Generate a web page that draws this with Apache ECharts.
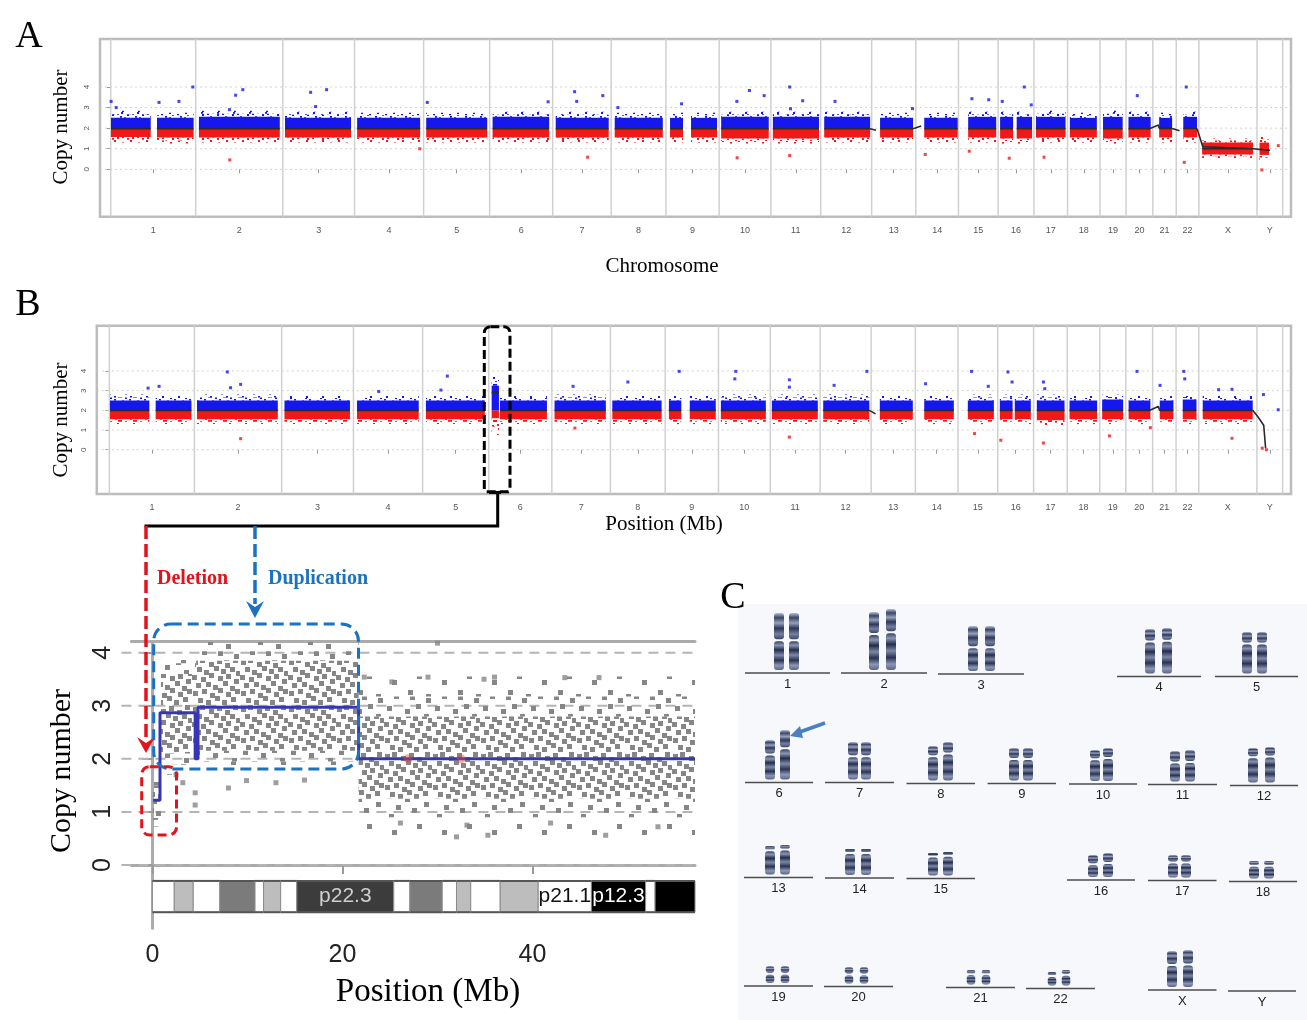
<!DOCTYPE html>
<html><head><meta charset="utf-8">
<script src="https://cdn.jsdelivr.net/npm/echarts@6/dist/echarts.min.js"></script>
<style>html,body{margin:0;padding:0;background:#fff}#c{width:1307px;height:1020px}</style>
</head><body><div id="c"></div>
<script>
// ---------------- DATA ----------------
const chromLabels = ['1','2','3','4','5','6','7','8','9','10','11','12','13','14','15','16','17','18','19','20','21','22','X','Y'];
const chromSizeMb = [225,231,190,183,175,167,155,145,141,137,132,135,117,113,105,95,89,86,69,71,62,60,154,68];
const copyTicks = [0,1,2,3,4];

// Panel A probe clouds: [chrom index, start Mb, end Mb, low tail, dense low, dense high, high tail, segment CN]
const cloudA = [
 [0,0.8,106,1.3,1.57,2.5,2.85,1.97],[0,122.7,219.7,1.25,1.55,2.5,2.75,1.97],
 [1,8.7,223,1.3,1.55,2.55,2.85,1.97],[2,5.8,180.7,1.3,1.55,2.5,2.8,1.97],
 [3,6.9,173.8,1.3,1.55,2.5,2.75,1.97],[4,6.9,168.5,1.3,1.55,2.5,2.75,1.97],
 [5,7.7,157.7,1.3,1.55,2.55,2.8,1.97],[6,8,148.4,1.3,1.55,2.5,2.8,1.97],
 [7,9.3,136.7,1.3,1.55,2.5,2.75,1.97],[8,10.9,45.3,1.3,1.55,2.5,2.75,1.97],
 [8,66.5,135.4,1.3,1.55,2.5,2.75,1.97],[9,5.3,131.4,1.25,1.5,2.55,2.8,1.97],
 [10,5.3,127.5,1.25,1.5,2.55,2.8,1.97],[11,9.3,131,1.3,1.55,2.55,2.8,1.97],
 [12,22.3,109.7,1.3,1.55,2.5,2.75,1.97],[13,22.3,111,1.3,1.55,2.5,2.75,1.97],
 [14,25.7,100,1.3,1.55,2.55,2.8,1.97],[15,5.3,39.8,1.25,1.5,2.55,2.8,1.97],
 [15,49.3,90,1.25,1.5,2.55,2.8,1.97],[16,5.3,83.7,1.3,1.55,2.55,2.85,1.97],
 [17,6.1,77.6,1.3,1.55,2.5,2.75,1.97],[18,8,60,1.25,1.5,2.55,2.85,1.97],
 [19,6.4,65.2,1.3,1.55,2.55,2.8,1.97],[20,16.7,51.1,1.3,1.55,2.5,2.75,1.98],
 [21,18.6,54.9,1.3,1.55,2.55,2.8,1.98],[22,8.5,143.6,0.55,0.72,1.3,1.5,1.0],
 [23,6.6,31.8,0.45,0.7,1.3,1.6,0.95]
];
// Panel B probe clouds (same layout)
const cloudB = [
 [0,1.6,105.8,1.3,1.55,2.5,2.8,2.0],[0,122.5,217.2,1.3,1.55,2.5,2.75,2.0],
 [1,6.9,220.7,1.3,1.55,2.5,2.8,2.0],[2,7.4,180.7,1.3,1.55,2.5,2.75,2.0],
 [3,9.3,172.7,1.3,1.55,2.5,2.75,2.0],[4,8.7,164.8,1.3,1.55,2.5,2.75,2.0],
 [5,7.7,27,0.75,1.6,3.25,3.72,2.9],[5,29.6,154,1.3,1.55,2.5,2.75,2.0],
 [6,7.1,142.9,1.3,1.55,2.5,2.8,2.0],[7,5,135.5,1.3,1.55,2.5,2.75,2.0],
 [8,9.8,42.6,1.3,1.55,2.5,2.75,2.0],[8,65,133.8,1.3,1.55,2.5,2.75,2.0],
 [9,6.3,125.4,1.3,1.55,2.5,2.8,2.0],[10,4.2,125.9,1.3,1.55,2.5,2.8,2.0],
 [11,8.2,130.2,1.3,1.55,2.5,2.8,2.0],[12,23,110.3,1.3,1.55,2.5,2.75,2.0],
 [13,23.5,101.8,1.3,1.55,2.5,2.75,2.0],[14,25.9,94.8,1.3,1.55,2.5,2.8,2.0],
 [15,5.6,39.4,1.3,1.55,2.5,2.8,2.0],[15,45.2,87.6,1.3,1.55,2.5,2.8,2.0],
 [16,8.5,81.8,1.25,1.5,2.5,2.8,2.0],[17,6.1,79.1,1.3,1.55,2.5,2.75,2.0],
 [18,6.4,61.9,1.3,1.55,2.55,2.8,2.0],[19,7.4,65.1,1.3,1.55,2.5,2.75,2.0],
 [20,18.8,55,1.3,1.55,2.5,2.75,2.0],[21,17.7,54,1.3,1.55,2.55,2.8,2.0],
 [22,10.6,142.9,1.3,1.55,2.5,2.75,2.0]
];
// extra segment-line pieces: [chrom index, Mb, CN]
const trendExtraA = [
 [[11,131,1.97],[12,11.7,1.9]],
 [[12,109.7,1.97],[13,14.3,2.1]],
 [[19,63.6,1.98],[20,14.8,2.15],[20,16.7,1.99]],
 [[20,51.1,1.98],[21,8.7,1.87]],
 [[21,54.9,1.98],[22,10.3,1.1],[22,143.6,1.0],[23,34.5,0.92]]
];
const trendExtraB = [
 [[11,130.2,2.0],[12,11.7,1.82]],
 [[19,63.6,2.0],[20,14.8,2.2],[20,18.8,2.0]],
 [[22,142.9,2.0],[23,3,1.66],[23,18,1.24],[23,23,0.08]]
];
// isolated probes: [genome position, CN]
const outlierA = [[1.1,3.3],[14.6,3.0],[128,3.25],[180.7,3.3],[217.6,4.0],[314.6,2.9],[331,3.6],[350,3.87],[529.7,3.74],[543,3.05],[572,3.87],[838.7,3.25],[1158.8,3.28],[1229,3.77],[1234.6,3.3],[1303.8,3.58],[1343.8,3.0],[1512.4,3.18],[1658.9,3.3],[1692.3,3.83],[1731.2,3.58],[1798.8,4.0],[1801,2.94],[1833.3,3.33],[1918.9,3.3],[2124.2,2.95],[2281.7,3.43],[2326.2,3.38],[2362,3.3],[2420.3,4.0],[2438.8,3.13],[2719.7,3.58],[2849.5,4.0],
 [315.6,0.46],[818.6,1.0],[1263.5,0.59],[1659.7,0.56],[1798.8,0.67],[2157.9,0.72],[2274.5,0.88],[2380.5,0.54],[2472.7,0.59],[2844.2,0.34],[3049.9,-0.03],[3093.3,1.15]];
const outlierB = [[102.4,3.13],[131.5,3.22],[312,3.95],[320.7,3.15],[347.4,3.32],[712.8,2.96],[877.4,3.03],[894.4,3.74],[1227.2,3.22],[1372.2,3.44],[1508,3.98],[1655.3,3.6],[1657.7,3.98],[1799.6,3.55],[1799.6,3.18],[1918,3.27],[2004.6,3.98],[2160,3.35],[2281.6,3.98],[2326,3.22],[2378,3.95],[2389,3.44],[2472,3.44],[2475.6,3.1],[2719.6,3.98],[2780.6,3.27],[2843.4,3.98],[2846,3.6],[2935.7,3.05],[2971,3.07],[3054.2,2.8],[3093.3,2.03],
 [347.4,0.56],[1232,1.1],[1799.6,0.64],[2289.6,0.82],[2359.2,0.48],[2472,0.34],[2646.6,0.7],[2755,1.12],[2971,0.58],[3051,0.08],[3062,0.0]];

// zoomed chr6p panel
const zoomCloud = [ // [start Mb, end Mb, low tail, dense low, dense high, high tail]
 [0.05,0.9,0.6,0.85,1.5,1.85],
 [0.9,4.6,1.7,2.1,3.6,4.0],
 [4.6,21.7,1.75,2.15,3.85,4.2],
 [21.7,57.1,0.55,1.25,2.8,3.55]
];
const zoomOutliers = [[30,4.18],[8,1.45],[9.9,1.59],[4.5,1.13],[4.5,1.36],[26.1,0.79],[32,0.53],[35.3,0.56],[33.1,0.75],[47.7,0.56],[53.2,0.72],[41.9,0.79],[43.4,3.53],[47,3.53],[36,3.54],[34.9,3.5],[29,3.54],[25.2,3.45],[22.3,3.54],[13,1.55],[16,1.6],[2.5,1.7],[3.2,1.55]];
const zoomSegments = [[0.1,1.22],[0.8,1.22],[0.8,2.87],[4.5,2.87],[4.5,2.0],[4.8,2.0],[4.8,2.97],[21.7,2.97],[21.7,2.0],[57.1,2.0]];
const zoomRedMarks = [[26.9,2.0],[32.5,2.0]];
const zoomXTicks = [0,20,40];
const cytoBands = [ // [start Mb, end Mb, stain, name]
 [0,2.3,'gneg',''],[2.3,4.3,'gpos25',''],[4.3,7.1,'gneg',''],[7.1,10.8,'gpos50',''],[10.8,11.7,'gneg',''],
 [11.7,13.5,'gpos25',''],[13.5,15.2,'gneg',''],[15.2,25.4,'gpos75','p22.3'],[25.4,27.1,'gneg',''],
 [27.1,30.5,'gpos50',''],[30.5,32.0,'gneg',''],[32.0,33.5,'gpos25',''],[33.5,36.6,'gneg',''],
 [36.6,40.6,'gpos25',''],[40.6,46.2,'gneg','p21.1'],[46.2,51.9,'gpos100','p12.3'],[51.9,52.9,'gneg',''],[52.9,57.1,'gpos100','']
];
const karyoLabels = ['1','2','3','4','5','6','7','8','9','10','11','12','13','14','15','16','17','18','19','20','21','22','X','Y'];
const karyoCentromere = [0.48,0.38,0.47,0.28,0.28,0.37,0.38,0.3,0.34,0.3,0.38,0.27,0.15,0.15,0.16,0.42,0.33,0.27,0.45,0.45,0.3,0.3,0.39,0];

// ---------------- DERIVED ----------------
const chromStart = []; let acc = 0;
chromSizeMb.forEach(s => { chromStart.push(acc); acc += s; });
const genomeLen = acc;
const centers = chromStart.map((s,i) => s + chromSizeMb[i]/2);
const boundaries = chromStart.concat([genomeLen]);
const g = (c, mb) => chromStart[c] + mb;

function cloudData(arr){ return arr.map(r => [g(r[0],r[1]), g(r[0],r[2]), r[3], r[4], r[5], r[6]]); }
function trendData(arr, extras){
  const d = [];
  arr.forEach(r => { d.push([g(r[0],r[1]), r[7]]); d.push([g(r[0],r[2]), r[7]]); d.push(['-','-']); });
  extras.forEach(poly => { poly.forEach(p => d.push([g(p[0],p[1]), p[2]])); d.push(['-','-']); });
  return d;
}

// ---------------- TEXTURES (fixed hand-laid dot tiles, styling only) ----------------
function tile(w, h, dots, color, size){
  const c = document.createElement('canvas'); c.width = w; c.height = h;
  const x = c.getContext('2d'); x.fillStyle = color;
  dots.forEach(([a,b]) => x.fillRect(a, b, size, size));
  return {image: c, repeat: 'repeat'};
}
const BLUE = '#1616ee', RED = '#f01818', GREY = '#868686';
const smallMed = [[0,0],[5,1],[9,3],[2,4],[7,6],[0,8],[4,9],[10,10],[12,5],[13,0]];
const smallSparse = [[1,2],[9,0],[5,7],[13,9],[2,12],[10,14]];
const fillsAB = {
  lo: {core: RED, medium: tile(15,12,smallMed,RED,2), sparse: tile(16,16,smallSparse,RED,2)},
  hi: {core: BLUE, medium: tile(15,12,smallMed,BLUE,2), sparse: tile(16,16,smallSparse,BLUE,2)}
};
const greyDense = [[1,2],[8,0],[17,4],[25,1],[33,5],[41,0],[5,9],[12,12],[22,8],[29,11],[38,9],[44,13],
  [0,17],[9,19],[17,15],[26,18],[34,16],[42,21],[4,25],[14,24],[21,27],[31,23],[38,28],
  [1,33],[10,31],[18,35],[26,30],[34,34],[43,31],[6,40],[14,42],[23,38],[30,42],[39,39]];
const greyMed = [[3,2],[21,5],[32,0],[12,13],[28,16],[5,22],[19,26],[35,27],[10,34],[26,35],[40,10],[42,38]];
const greySparse = [[6,4],[31,10],[17,24],[42,30],[8,40],[26,44]];
const fillsZ = {
  n: {core: tile(48,47,greyDense,GREY,5), medium: tile(48,44,greyMed,GREY,5), sparse: tile(50,50,greySparse,GREY,5)}
};

function cloudRenderer(fills, split){
  return function(params, api){
    const s = api.value(0), e = api.value(1);
    const lt = api.value(2), lc = api.value(3), hc = api.value(4), ht = api.value(5);
    const x0 = api.coord([s,0])[0], x1 = api.coord([e,0])[0];
    const py = v => api.coord([s,v])[1];
    const kids = [];
    const add = (v0, v1, kind) => {
      const parts = split == null ? [[v0,v1,'n']] : [[v0,Math.min(v1,split),'lo'],[Math.max(v0,split),v1,'hi']];
      parts.forEach(([a,b,side]) => {
        if (b - a <= 1e-6) return;
        kids.push({type:'rect', shape:{x:x0, y:py(b), width:Math.max(x1-x0,1), height:py(a)-py(b)}, style:{fill: fills[side][kind]}});
      });
    };
    const ml = (lt+lc)/2, mh = (hc+ht)/2;
    add(lt,ml,'sparse'); add(ml,lc,'medium'); add(lc,hc,'core'); add(hc,mh,'medium'); add(mh,ht,'sparse');
    return {type:'group', children:kids};
  };
}
function hLines(color, dash, width, ext){
  return function(params, api){
    const cs = params.coordSys; const y = api.coord([0, api.value(1)])[1];
    return {type:'line', shape:{x1:cs.x-ext, y1:y, x2:cs.x+cs.width, y2:y}, style:{stroke:color, lineWidth:width, lineDash:dash}};
  };
}
function vLines(params, api){
  const cs = params.coordSys; const x = api.coord([api.value(0), 0])[0];
  return {type:'line', shape:{x1:x, y1:cs.y, x2:x, y2:cs.y+cs.height}, style:{stroke:'#d0d0d0', lineWidth:1.5}};
}
const stainColor = {gneg:'#ffffff', gpos25:'#bdbdbd', gpos50:'#7b7b7b', gpos75:'#3c3c3c', gpos100:'#000000'};
const stainText = {gpos75:'#cfcfcf', gpos100:'#ffffff', gneg:'#111111'};
function ideoRender(params, api){
  const b = cytoBands[params.dataIndex];
  const p0 = api.coord([api.value(0), -0.3]), p1 = api.coord([api.value(1), -0.89]);
  const kids = [{type:'rect', shape:{x:p0[0], y:p0[1], width:p1[0]-p0[0], height:p1[1]-p0[1]}, style:{fill:stainColor[b[2]], stroke:'#8a8a8a', lineWidth:1}},
    {type:'line', shape:{x1:p0[0], y1:p0[1], x2:p1[0], y2:p0[1]}, style:{stroke:'#555', lineWidth:2}},
    {type:'line', shape:{x1:p0[0], y1:p1[1], x2:p1[0], y2:p1[1]}, style:{stroke:'#555', lineWidth:2}}];
  if (b[3]) kids.push({type:'text', x:(p0[0]+p1[0])/2, y:(p0[1]+p1[1])/2,
    style:{text:b[3], fill:stainText[b[2]], font:'21px "Liberation Sans"', align:'center', verticalAlign:'middle', textAlign:'center', textVerticalAlign:'middle'}});
  return {type:'group', children:kids};
}

const labFmt = v => { let bi = 0, bd = 1e9; centers.forEach((c,i) => { const d = Math.abs(c-v); if (d < bd){bd=d;bi=i;} }); return chromLabels[bi]; };
const smallTick = {fontSize:9, color:'#555', fontFamily:'Liberation Sans'};

function genomeXAxis(gi, min, max){
  return {gridIndex:gi, type:'value', min, max, axisLine:{show:false}, splitLine:{show:false},
    axisTick:{show:true, customValues:centers, length:4, lineStyle:{color:'#999'}},
    axisLabel:Object.assign({customValues:centers, formatter:labFmt, margin:9}, smallTick)};
}
function copyYAxis(gi, min, max){
  return {gridIndex:gi, type:'value', min, max, axisLine:{show:false}, splitLine:{show:false},
    axisTick:{show:true, customValues:copyTicks, length:4, lineStyle:{color:'#999'}},
    axisLabel:{customValues:copyTicks, rotate:90, fontSize:8, color:'#555', fontFamily:'Liberation Sans', margin:9}};
}
const zFrame = {show:true, lineStyle:{color:'#ababab', width:3}};
const bigTick = {fontSize:25, color:'#222', fontFamily:'Liberation Sans'};

function panelSeries(idx, clouds, extras, outliers){
  return [
    {type:'custom', xAxisIndex:idx, yAxisIndex:idx, silent:true, z:1, data:copyTicks.map(v=>[0,v]), encode:{x:0,y:1}, renderItem:hLines('#d2d2d2',[2,3],1,0)},
    {type:'custom', xAxisIndex:idx, yAxisIndex:idx, silent:true, z:1, data:boundaries.map(v=>[v,0]), encode:{x:0,y:1}, renderItem:vLines},
    {type:'custom', xAxisIndex:idx, yAxisIndex:idx, silent:true, z:2, data:cloudData(clouds), encode:{x:[0,1], y:[2,3,4,5]}, renderItem:cloudRenderer(fillsAB, 2)},
    {type:'scatter', xAxisIndex:idx, yAxisIndex:idx, silent:true, z:3, symbol:'rect', symbolSize:3, data:outliers,
      itemStyle:{color: p => p.value[1] > 2 ? BLUE : RED}},
    {type:'line', xAxisIndex:idx, yAxisIndex:idx, silent:true, z:4, showSymbol:false, connectNulls:false, data:trendData(clouds, extras),
      lineStyle:{color:'#2a2a2a', width:1.6}}
  ];
}

const option = {
  animation:false,
  grid:[
    {left:100, top:39, width:1191, height:177.7, show:true, borderColor:'#bcbcbc', borderWidth:2.5},
    {left:96.8, top:325.7, width:1194.2, height:168.3, show:true, borderColor:'#bcbcbc', borderWidth:2.5},
    {left:131.4, top:641.7, width:563.6, height:286.6, show:false}
  ],
  xAxis:[
    genomeXAxis(0, -28.35, 3127),
    genomeXAxis(1, -33.3, 3127.2),
    {gridIndex:2, type:'value', min:-2.21, max:57.1, axisLine:zFrame, splitLine:{show:false},
      axisTick:{show:true, customValues:zoomXTicks, length:9, lineStyle:{color:'#9a9a9a', width:2}},
      axisLabel:Object.assign({customValues:zoomXTicks, margin:14}, bigTick)},
    {gridIndex:2, type:'value', position:'top', min:-2.21, max:57.1, axisLine:zFrame, axisTick:{show:false}, axisLabel:{show:false}, splitLine:{show:false}}
  ],
  yAxis:[
    copyYAxis(0, -2.30, 6.33),
    copyYAxis(1, -2.25, 6.30),
    {gridIndex:2, type:'value', min:-1.193, max:4.207, axisLine:zFrame, splitLine:{show:false},
      axisTick:{show:true, customValues:copyTicks, length:10, lineStyle:{color:'#9a9a9a', width:2}},
      axisLabel:Object.assign({customValues:copyTicks, rotate:90, margin:16}, bigTick)}
  ],
  series:[].concat(
    panelSeries(0, cloudA, trendExtraA, outlierA),
    panelSeries(1, cloudB, trendExtraB, outlierB),
    [
      {type:'custom', xAxisIndex:2, yAxisIndex:2, silent:true, z:1, data:copyTicks.map(v=>[0,v]), encode:{x:0,y:1}, renderItem:hLines('#b4b4b4',[10,7],2,10)},
      {type:'custom', xAxisIndex:2, yAxisIndex:2, silent:true, z:2, data:zoomCloud, encode:{x:[0,1], y:[2,3,4,5]}, renderItem:cloudRenderer(fillsZ, null)},
      {type:'scatter', xAxisIndex:2, yAxisIndex:2, silent:true, z:3, symbol:'rect', symbolSize:5, data:zoomOutliers, itemStyle:{color:GREY}},
      {type:'line', xAxisIndex:2, yAxisIndex:2, silent:true, z:4, showSymbol:false, data:zoomSegments, lineStyle:{color:'#3636b4', width:3}},
      {type:'scatter', xAxisIndex:2, yAxisIndex:2, silent:true, z:5, symbolSize:9, data:zoomRedMarks, itemStyle:{color:'rgba(225,70,70,0.55)'}},
      {type:'custom', xAxisIndex:2, yAxisIndex:2, silent:true, z:3, data:cytoBands.map(b=>[b[0],b[1]]), encode:{x:[0,1]}, renderItem:ideoRender}
    ]
  )
};

// ---------------- ANNOTATIONS / KARYOTYPE ----------------
const serif = '"Liberation Serif", "Times New Roman", serif';
function txt(text, x, y, size, opts){
  opts = opts || {};
  return {type:'text', x, y, rotation:opts.rot||0, z:100,
    style:{text, fill:opts.color||'#000', font:(opts.bold?'bold ':'')+size+'px '+(opts.family||serif),
      align:opts.align||'center', verticalAlign:'middle', textAlign:opts.align||'center', textVerticalAlign:'middle'}};
}
const gr = [];
gr.push(txt('A', 29, 37, 38));
gr.push(txt('B', 28, 305, 38));
gr.push(txt('C', 733, 598, 38));
gr.push(txt('Copy number', 61, 127, 21, {rot:Math.PI/2}));
gr.push(txt('Chromosome', 662, 266, 21));
gr.push(txt('Copy number', 61, 420, 21, {rot:Math.PI/2}));
gr.push(txt('Position (Mb)', 664, 524, 21));
gr.push(txt('Copy number', 62, 771, 30, {rot:Math.PI/2}));
gr.push(txt('Position (Mb)', 428, 992, 33));
gr.push(txt('Deletion', 157, 579, 20, {bold:true, color:'#e3121b', align:'left'}));
gr.push(txt('Duplication', 268, 579, 20, {bold:true, color:'#1b72c0', align:'left'}));

const ln = (pts, color, w, dash) => ({type:'polyline', z:100, shape:{points:pts}, style:{stroke:color, lineWidth:w, lineDash:dash||null, fill:null}});
// highlight box on panel B + connector
gr.push({type:'rect', z:100, shape:{x:484.3, y:326.7, width:25.7, height:165, r:[6,6,2,2]}, style:{fill:null, stroke:'#000', lineWidth:3, lineDash:[9,4]}});
gr.push(ln([[489,492.5],[501,492.5]], '#000', 3));
gr.push(ln([[497.7,492.5],[497.7,526],[144.5,526]], '#000', 3));
gr.push(ln([[146,526],[146,740]], '#e3121b', 3.5, [13,5]));
gr.push({type:'polygon', z:100, shape:{points:[[137,737],[146,753],[155,737],[146,743]]}, style:{fill:'#e3121b'}});
gr.push(ln([[255,526],[255,604]], '#1b72c0', 3.5, [13,5]));
gr.push({type:'polygon', z:100, shape:{points:[[246,601],[255,618],[264,601],[255,607]]}, style:{fill:'#1b72c0'}});
gr.push({type:'rect', z:100, shape:{x:153.7, y:624, width:204.8, height:145, r:17}, style:{fill:null, stroke:'#1b72c0', lineWidth:3, lineDash:[11,6]}});
gr.push({type:'rect', z:100, shape:{x:141.7, y:766.7, width:34.8, height:68.3, r:8}, style:{fill:null, stroke:'#e3121b', lineWidth:3, lineDash:[9,5]}});

// karyotype panel (picture reproduction)
gr.push({type:'rect', z:0, shape:{x:738, y:604, width:569, height:416}, style:{fill:'#f7f8fb'}});
const karyoLayout = [ // [baseLeft, baseRight, baseY, x1, x2, top1, top2]
 [745,830,673,779,794,613,613],[841,927,673,874,891,612,609],[938,1024,674,973,990,626,626],[1117,1201,676.5,1150,1167,629,628],[1215,1298,676.5,1247,1262,632,632],
 [745,813,782.5,770,785,740,730],[825,894,782.5,853,866,742,742],[906.5,975,783.5,933,948,746,742],[987.6,1056,783.5,1014,1028,748,748],[1069,1137,784,1095,1108,750,748],[1148,1217,784.5,1175,1190,751,750],[1230,1298,785.5,1253,1270,748,747],
 [744,813,877.5,770,785,846,845],[825,894,878,850,866,849,849],[906.5,975,878.5,933,948,853,852],[1067,1135,880,1093,1108,855,853],[1148,1216.5,880.5,1173,1186,855,855],[1229,1297,881.5,1254,1269,861,861],
 [744,813,986,770,785,966,966],[824,893,986.5,849,864,967,967],[946,1015,987.5,971,986,970,970],[1026,1095,988.5,1052,1066,972,970],[1148,1216.5,990,1172,1188,951,950],[1228,1296,991,null,null,null,null]
];
const pStops = [[0,'#b7bfd6'],[0.18,'#3b4666'],[0.38,'#97a1bd'],[0.58,'#2d3757'],[0.8,'#7681a2'],[1,'#3a4566']];
const qStops = [[0,'#3a4565'],[0.14,'#8a95b3'],[0.3,'#242d4b'],[0.48,'#7d88a7'],[0.66,'#2a3352'],[0.84,'#8d97b5'],[1,'#5a658a']];
const grad = st => new echarts.graphic.LinearGradient(0,0,0,1, st.map(([o,c]) => ({offset:o, color:c})));
function chromosome(cx, top, bottom, w, cen){
  const cy = top + (bottom-top)*cen;
  return [
    {type:'rect', z:10, shape:{x:cx-w/2, y:top, width:w, height:Math.max(cy-top-1,2), r:3}, style:{fill:grad(pStops)}},
    {type:'rect', z:10, shape:{x:cx-w/2, y:cy+1, width:w, height:bottom-cy-1, r:3}, style:{fill:grad(qStops)}}
  ];
}
karyoLayout.forEach((k, i) => {
  const [bl, br, by, x1, x2, t1, t2] = k;
  gr.push(ln([[bl,by],[br,by]], '#4d4d4d', 1.5));
  gr.push(txt(karyoLabels[i], (bl+br)/2, by+11, 13, {family:'"Liberation Sans", sans-serif', color:'#222'}));
  if (x1 != null){
    const w = i >= 18 && i <= 21 ? 8.5 : 10;
    chromosome(x1, t1, by-3, w, karyoCentromere[i]).forEach(e => gr.push(e));
    chromosome(x2, t2, by-3, w, karyoCentromere[i]).forEach(e => gr.push(e));
  }
});
// arrow pointing to derivative chromosome 6
gr.push(ln([[825,723],[797,733]], '#4a7fc0', 3.5));
gr.push({type:'polygon', z:100, shape:{points:[[790,736],[800,726],[803,738]]}, style:{fill:'#4a7fc0'}});
option.graphic = gr;

const chart = echarts.init(document.getElementById('c'), null, {renderer:'canvas'});
chart.setOption(option);
</script></body></html>
